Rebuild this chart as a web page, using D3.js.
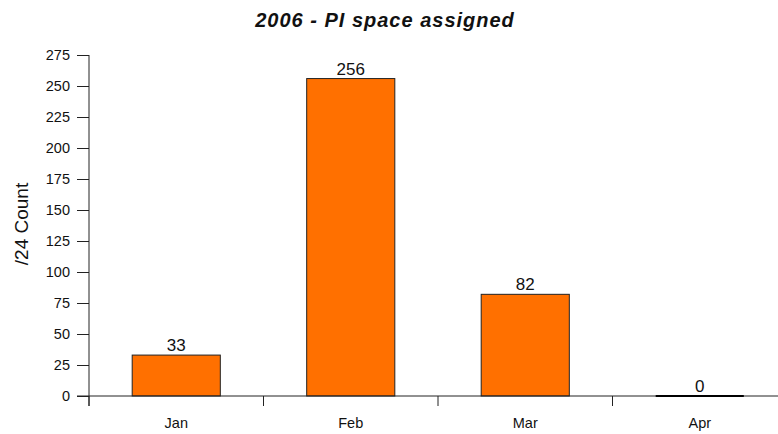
<!DOCTYPE html>
<html><head><meta charset="utf-8">
<script src="https://cdn.jsdelivr.net/npm/d3@7"></script>
<style>body{margin:0;background:#fff}svg{display:block}text{font-family:"Liberation Sans",Arial,sans-serif}</style>
</head><body><div id="c"></div>
<script>
const categories = ["Jan","Feb","Mar","Apr"];
const values = [33,256,82,0];
const yTicks = [0,25,50,75,100,125,150,175,200,225,250,275];
const title = "2006 - PI space assigned";
const yTitle = "/24 Count";

const W=778,H=434;
const svg=d3.select("#c").append("svg").attr("width",W).attr("height",H);
const x=d3.scaleBand().domain(categories).range([89,787]).paddingInner(0).paddingOuter(0);
const y=d3.scaleLinear().domain([0,275]).range([396,55]);

// bars
const bw=x.bandwidth()*0.505;
svg.selectAll("rect.bar").data(values).enter().append("rect")
 .attr("x",(d,i)=>x(categories[i])+x.bandwidth()/2-bw/2)
 .attr("y",d=>y(d)).attr("width",bw).attr("height",d=>y(0)-y(d))
 .attr("fill","#FF7000").attr("stroke","#222").attr("stroke-width",1);

// x axis line
svg.append("line").attr("x1",77).attr("x2",W).attr("y1",y(0)).attr("y2",y(0)).attr("stroke","#222");
values.forEach((d,i)=>{ if(d===0){ svg.append("line").attr("x1",x(categories[i])+x.bandwidth()/2-bw/2).attr("x2",x(categories[i])+x.bandwidth()/2+bw/2).attr("y1",y(0)).attr("y2",y(0)).attr("stroke","#000").attr("stroke-width",2);} });

// y axis
const ya=d3.axisLeft(y).tickValues(yTicks).tickSize(12).tickPadding(7);
const gy=svg.append("g").attr("transform","translate(89,0)").call(ya);
gy.select(".domain").remove();
gy.selectAll("line").attr("stroke","#222");
gy.selectAll("text").attr("font-size",14.5).attr("fill","#111");
svg.append("line").attr("x1",89).attr("x2",89).attr("y1",55).attr("y2",406).attr("stroke","#222");

// x ticks at band boundaries
categories.forEach(c=>{ const xx=x(c); svg.append("line").attr("x1",xx).attr("x2",xx).attr("y1",y(0)).attr("y2",406).attr("stroke","#222"); });
const xa=d3.axisBottom(x).tickSize(0).tickPadding(22);
const gx=svg.append("g").attr("transform",`translate(0,${y(0)})`).call(xa);
gx.select(".domain").remove();
gx.selectAll("text").attr("font-size",14.5).attr("fill","#111");

// value labels
svg.selectAll("text.val").data(values).enter().append("text")
 .attr("x",(d,i)=>x(categories[i])+x.bandwidth()/2).attr("y",d=>y(d)-4)
 .attr("text-anchor","middle").attr("font-size",17).attr("fill","#111").text(d=>d);

svg.append("text").attr("x",385).attr("y",27).attr("text-anchor","middle")
 .attr("font-size",20).attr("font-weight","bold").attr("font-style","italic").attr("letter-spacing",1).attr("fill","#111").text(title);
svg.append("text").attr("transform","translate(28,224) rotate(-90)").attr("text-anchor","middle")
 .attr("font-size",19).attr("fill","#111").text(yTitle);
</script></body></html>
